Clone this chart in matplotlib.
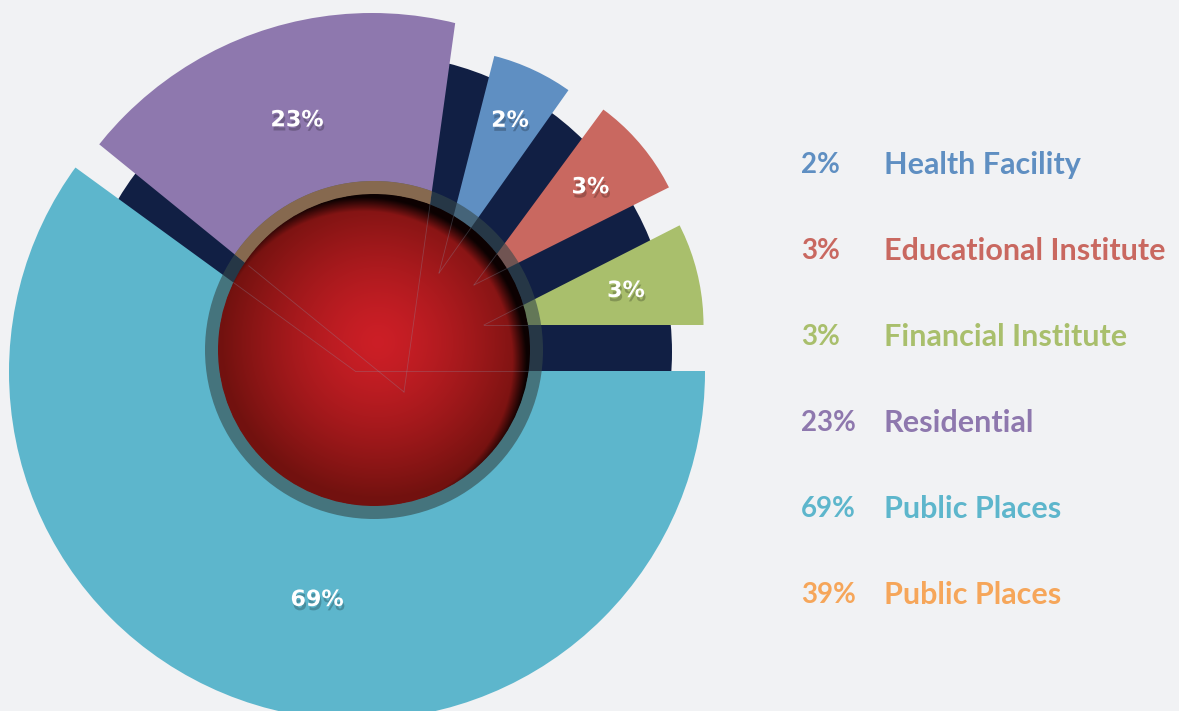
import numpy as np
import matplotlib.pyplot as plt
import matplotlib.patheffects as pe
from matplotlib.patches import Wedge, Circle

W, H = 1179, 711

# data
categories = ['Health Facility', 'Educational Institute', 'Financial Institute',
              'Residential', 'Public Places', 'Public Places']
shares = [2, 3, 3, 23, 69, 39]
colors = ['#5f8fc2', '#c96860', '#a9bf6c', '#8e78ae', '#5db6cc', '#f6a65a']

# slice layout in pixel space (only the first five categories are drawn as slices)
# angles are counter-clockwise on screen, in degrees
apex_x = [439, 474, 484, 404, 355]
apex_y = [273, 285, 325, 392, 371]
edge_from = [54.7, 26.6, 0.0, 82.1, 143.95]
edge_to = [75.7, 53.6, 27.0, 140.9, 360.0]
arc_x = [439, 474, 484, 372, 357]
arc_y = [273, 285, 325, 362, 372]
arc_r = [224, 218, 219.5, 349, 348]
label_theta = [65.0, 40.0, 13.5, 111.5, 260.6]
label_dist = [168, 152, 146, 292, 232]

bg = '#f1f2f4'
navy = '#111f44'
hub_x, hub_y, hub_r, ring_r = 374, 350, 156, 169

fig = plt.figure(figsize=(W / 100, H / 100), dpi=100, facecolor=bg)
ax = fig.add_axes([0, 0, 1, 1])
ax.set_xlim(0, W)
ax.set_ylim(H, 0)
ax.axis('off')

# dark backing disc that shows in the gaps
ax.add_patch(Circle((374, 352), 298, fc=navy, ec='none', zorder=1))

# slices, drawn largest first
slices = {}
for i in sorted(range(5), key=lambda k: -shares[k]):
    w = Wedge((apex_x[i], apex_y[i]), 700, -edge_to[i], -edge_from[i],
              fc=colors[i], ec='none', zorder=2)
    ax.add_patch(w)
    w.set_clip_path(Circle((arc_x[i], arc_y[i]), arc_r[i], transform=ax.transData))
    slices[i] = w

# translucent ring round the hub
ax.add_patch(Circle((hub_x, hub_y), ring_r, fc='#354849', ec='none', alpha=0.6, zorder=3))
warm = Wedge((hub_x, hub_y), ring_r, 0, 360, width=ring_r - hub_r + 2,
             fc='#86694f', ec='none', zorder=3.5)
ax.add_patch(warm)
warm.set_clip_path(slices[3])

# red hub with radial shading
n = 400
xs = np.linspace(hub_x - hub_r, hub_x + hub_r, n)
ys = np.linspace(hub_y - hub_r, hub_y + hub_r, n)
xx, yy = np.meshgrid(xs, ys)
d = np.hypot(xx - 378, yy - 342)
t = np.clip(d / hub_r, 0, 1) ** 1.4
c0 = np.array([0.80, 0.12, 0.15])
c1 = np.array([0.45, 0.07, 0.06])
img = c0 + (c1 - c0) * t[..., None]
ds = np.hypot(xx - (hub_x - 11), yy - (hub_y + 11))
shade = np.clip((ds - (hub_r - 6)) / 14, 0, 1)
img = img * (1 - 0.9 * shade[..., None])
rgba = np.dstack([img, (np.hypot(xx - hub_x, yy - hub_y) <= hub_r + 1).astype(float)])
im = ax.imshow(rgba, extent=(hub_x - hub_r, hub_x + hub_r, hub_y + hub_r, hub_y - hub_r),
               origin='upper', interpolation='bilinear', zorder=4)
im.set_clip_path(Circle((hub_x, hub_y), hub_r, transform=ax.transData))
ax.set_xlim(0, W)
ax.set_ylim(H, 0)

# faint slice edges showing through the hub
for i in range(5):
    for a in (edge_from[i], edge_to[i]):
        th = np.radians(a)
        ex = apex_x[i] + 200 * np.cos(th)
        ey = apex_y[i] - 200 * np.sin(th)
        ln, = ax.plot([apex_x[i], ex], [apex_y[i], ey], color='#8a9ab0',
                      lw=0.6, alpha=0.3, zorder=4.5)
        ln.set_clip_path(Circle((hub_x, hub_y), hub_r, transform=ax.transData))

# percentage labels on the slices
shadow = [pe.withSimplePatchShadow(offset=(1, -3), shadow_rgbFace='black', alpha=0.22)]
for i in range(5):
    th = np.radians(label_theta[i])
    lx = apex_x[i] + label_dist[i] * np.cos(th)
    ly = apex_y[i] - label_dist[i] * np.sin(th)
    ax.text(lx, ly, f'{shares[i]}%', color='white', fontsize=16, weight='bold',
            family='DejaVu Sans', ha='center', va='center', zorder=6,
            path_effects=shadow)

# legend column
for k, (name, share, col) in enumerate(zip(categories, shares, colors)):
    y = 165 + 86 * k
    ax.text(801, y, f'{share}%', color=col, fontsize=20, weight='bold',
            family=['Lato', 'DejaVu Sans'], ha='left', va='center')
    ax.text(884, y, name, color=col, fontsize=22, weight='bold',
            family=['Lato', 'DejaVu Sans'], ha='left', va='center')

fig.savefig('out.png', dpi=100, facecolor=bg)
